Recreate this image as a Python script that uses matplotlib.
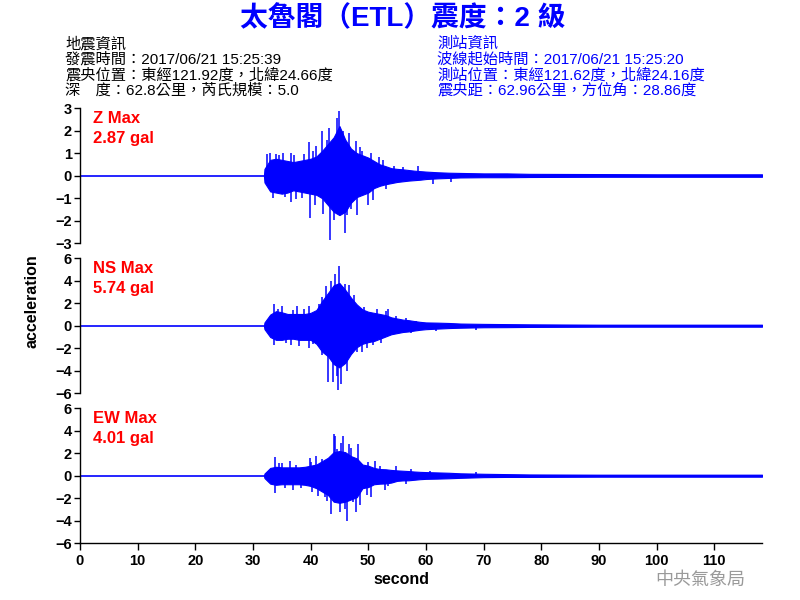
import matplotlib
matplotlib.use('Agg')
import matplotlib.pyplot as plt

plt.rcParams['font.family'] = ['Liberation Sans', 'Noto Sans CJK TC', 'DejaVu Sans']

BLUE = '#0000ff'
RED = '#ff0000'

title = '太魯閣（ETL）震度：2 級'
left_info = ['地震資訊', '發震時間：2017/06/21 15:25:39',
             '震央位置：東經121.92度，北緯24.66度', '深　度：62.8公里，芮氏規模：5.0']
right_info = ['測站資訊', '波線起始時間：2017/06/21 15:25:20',
              '測站位置：東經121.62度，北緯24.16度', '震央距：62.96公里，方位角：28.86度']

components = ['Z', 'NS', 'EW']
max_gal = ['2.87', '5.74', '4.01']
y_limits = [3, 6, 6]
y_steps = [1, 2, 2]
x_ticks = list(range(0, 111, 10))
t_end = 118.3

# envelope of the trace (seconds, gal)
env_t = [31.9, 32, 33, 34, 35, 36, 37, 38, 39, 40, 41, 42, 43, 44, 45, 46, 47, 48, 49, 50,
         51, 52, 53, 54, 55, 56, 57, 58, 59, 60, 62, 64, 66, 70, 74, 78, 90, 100, 110, 118.3]
z_up = [0, 0.3, 0.7, 0.75, 0.7, 0.65, 0.6, 0.65, 0.7, 0.75, 0.85, 1.1, 1.4, 1.7, 2.2, 1.6, 1.2, 1.0, 0.9, 0.8,
        0.65, 0.5, 0.42, 0.33, 0.3, 0.28, 0.25, 0.22, 0.2, 0.18, 0.15, 0.13, 0.12, 0.1, 0.1, 0.08, 0.07, 0.06, 0.06, 0.06]
z_lo = [0, -0.3, -0.7, -0.75, -0.8, -0.75, -0.65, -0.7, -0.75, -0.8, -0.85, -1.0, -1.3, -1.6, -1.75, -1.6, -1.2, -0.95, -0.85, -0.75,
        -0.55, -0.45, -0.38, -0.33, -0.28, -0.25, -0.22, -0.2, -0.18, -0.15, -0.12, -0.1, -0.08, -0.07, -0.07, -0.06, -0.05, -0.05, -0.05, -0.05]
ns_up = [0, 0.3, 1.0, 1.3, 1.2, 1.05, 1.05, 1.05, 1.05, 1.15, 1.4, 2.2, 2.9, 3.6, 3.8, 3.2, 2.5, 1.9, 1.45, 1.25,
         1.15, 1.05, 0.95, 0.75, 0.65, 0.55, 0.5, 0.42, 0.35, 0.3, 0.28, 0.25, 0.2, 0.17, 0.15, 0.13, 0.1, 0.1, 0.1, 0.1]
ns_lo = [0, -0.3, -1.0, -1.25, -1.25, -1.15, -1.15, -1.25, -1.25, -1.25, -1.6, -2.3, -2.7, -3.4, -3.7, -3.3, -2.5, -1.9, -1.6, -1.45,
         -1.35, -1.15, -0.95, -0.75, -0.65, -0.55, -0.5, -0.42, -0.35, -0.3, -0.25, -0.2, -0.17, -0.13, -0.12, -0.1, -0.08, -0.08, -0.08, -0.08]
ew_up = [0, 0.2, 0.7, 0.8, 0.75, 0.75, 0.75, 0.75, 0.8, 0.9, 1.0, 1.3, 1.6, 2.1, 2.2, 2.1, 1.75, 1.55, 1.0, 0.9,
         0.7, 0.6, 0.58, 0.52, 0.48, 0.45, 0.42, 0.38, 0.35, 0.33, 0.3, 0.27, 0.22, 0.18, 0.15, 0.12, 0.1, 0.1, 0.1, 0.1]
ew_lo = [0, -0.2, -0.7, -0.8, -0.75, -0.75, -0.75, -0.75, -0.8, -0.9, -1.1, -1.4, -1.7, -2.3, -2.4, -2.3, -2.1, -1.9, -1.1, -1.0,
         -0.75, -0.7, -0.68, -0.6, -0.45, -0.41, -0.4, -0.35, -0.3, -0.27, -0.25, -0.22, -0.18, -0.12, -0.1, -0.1, -0.08, -0.08, -0.08, -0.08]

# individual peaks standing out of the envelope
z_sp_t = [32.5, 33.0, 33.5, 34.0, 34.5, 35.2, 35.5, 36.6, 36.6, 37.2, 37.5, 38.5, 38.8, 39.7, 39.9, 40.5, 40.8, 41.0,
          41.9, 42.2, 42.8, 43.2, 43.3, 44.0, 44.5, 45.0, 45.6, 45.9, 46.3, 46.6, 47.0, 47.8, 48.1, 48.5, 49.0, 49.9,
          50.5, 50.8, 51.8, 52.5, 53.0, 54.5, 56.0, 58.6, 61.2, 64.4]
z_sp_v = [0.95, 1.0, -1.0, 0.95, 0.9, 1.0, -0.95, 0.99, -1.19, 0.9, -1.05, -1.0, 0.95, 1.5, -1.87, 1.1, -1.3, 1.3,
          1.98, -1.68, 1.6, 2.1, -2.85, -1.98, 2.54, 2.87, 1.98, -2.53, -1.75, 1.87, -1.5, 1.53, -1.75, 1.28, 1.1, -1.31,
          1.0, -1.1, 0.81, 0.7, -0.6, 0.45, 0.4, 0.42, -0.36, -0.3]
ns_sp_t = [33.6, 33.6, 34.3, 35.0, 35.8, 36.6, 37.0, 37.7, 38.0, 38.8, 39.7, 39.7, 40.5, 41.5, 41.9, 42.0, 42.6, 43.1,
           43.5, 43.9, 44.2, 44.5, 44.8, 45.0, 45.3, 45.9, 46.3, 46.7, 47.0, 47.5, 48.1, 48.9, 49.3, 49.8, 50.8, 51.5,
           52.2, 53.0, 53.4, 54.9, 56.5, 57.5, 58.3, 61.8, 68.7]
ns_sp_v = [1.96, -1.75, 1.5, 1.8, -1.5, -1.7, 1.4, 1.8, -1.8, 1.5, 1.8, -2.0, -1.6, 1.95, -2.6, 2.6, 3.5, -5.0,
           4.0, -5.0, 4.6, -4.5, -5.74, 5.36, -5.15, 3.7, -4.0, 3.65, 2.4, 2.7, -2.35, -2.35, 1.65, -2.0, -1.75, 1.5,
           -1.5, 1.3, 1.5, 0.85, 0.7, -0.6, 0.47, -0.5, -0.41]
ew_sp_t = [33.8, 33.8, 34.5, 35.0, 35.5, 36.4, 36.9, 37.5, 38.3, 39.9, 40.0, 40.2, 40.9, 41.3, 42.0, 42.5, 42.8, 43.6,
           44.1, 44.3, 44.6, 45.1, 45.3, 45.6, 46.0, 46.3, 46.7, 47.0, 47.3, 47.9, 48.3, 48.6, 49.7, 50.0, 50.5, 51.1,
           52.0, 52.9, 53.5, 54.9, 56.6, 57.5, 60.7, 68.7]
ew_sp_v = [1.66, -1.54, 1.1, 1.13, -1.1, 1.3, -1.24, 1.0, -1.1, 1.6, 1.2, -1.45, 1.72, -1.8, 1.5, -1.9, -2.28, -3.38,
           3.73, 3.5, 2.4, -3.23, 2.9, 3.5, -2.93, -4.01, 2.84, 2.5, -2.34, -3.23, 2.84, -2.6, -1.75, 1.2, -1.9, 1.36,
           0.9, -1.24, -0.9, 0.83, -0.71, 0.6, 0.41, 0.33]

ups = [z_up, ns_up, ew_up]
los = [z_lo, ns_lo, ew_lo]
sp_ts = [z_sp_t, ns_sp_t, ew_sp_t]
sp_vs = [z_sp_v, ns_sp_v, ew_sp_v]

W, H = 800, 600
fig = plt.figure(figsize=(8, 6), dpi=100)

left_px, right_px = 80, 762
panels_px = [(108.0, 243.3), (258.3, 393.3), (408.3, 543.3)]

for i, comp in enumerate(components):
    top, bot = panels_px[i]
    ax = fig.add_axes([left_px / W, 1 - bot / H, (right_px - left_px) / W, (bot - top) / H])
    lim = y_limits[i]
    ax.plot([0, t_end], [0, 0], color=BLUE, lw=1.2)
    ax.fill_between(env_t, los[i], ups[i], color=BLUE, lw=0.8, edgecolor=BLUE)
    ax.vlines(sp_ts[i], 0, sp_vs[i], color=BLUE, lw=1.1)
    ax.set_xlim(0, t_end)
    ax.set_ylim(-lim, lim)
    ax.set_yticks(list(range(-lim, lim + 1, y_steps[i])))
    for s in ['top', 'right']:
        ax.spines[s].set_visible(False)
    ax.spines['left'].set_linewidth(1.0)
    ax.tick_params(axis='y', direction='out', length=4, width=1, labelsize=10.5, pad=2)
    for lab in ax.get_yticklabels():
        lab.set_fontweight('bold')
    if i < 2:
        ax.spines['bottom'].set_visible(False)
        ax.set_xticks([])
    else:
        ax.spines['bottom'].set_linewidth(1.0)
        ax.set_xticks(x_ticks)
        ax.tick_params(axis='x', direction='out', length=5, width=1, labelsize=10.5, pad=3)
        for lab in ax.get_xticklabels():
            lab.set_fontweight('bold')
    ax.text(0.019, 0.926, f'{comp} Max', transform=ax.transAxes, color=RED,
            fontsize=12, fontweight='bold', va='center', ha='left')
    ax.text(0.019, 0.778, f'{max_gal[i]} gal', transform=ax.transAxes, color=RED,
            fontsize=12, fontweight='bold', va='center', ha='left')

fig.text(403 / W, 1 - 19 / H, title, color=BLUE, fontsize=20, fontweight='bold',
         ha='center', va='center')
line_y = [44, 59.5, 75, 90.5]
for j, s in enumerate(left_info):
    fig.text(65 / W, 1 - line_y[j] / H, s, color='black', fontsize=11, ha='left', va='center')
for j, s in enumerate(right_info):
    fig.text(437 / W, 1 - line_y[j] / H, s, color=BLUE, fontsize=11, ha='left', va='center')

fig.text(32 / W, 1 - 301 / H, 'acceleration', rotation=90, fontsize=11.5, fontweight='bold',
         ha='center', va='center')
fig.text(401 / W, 1 - 580 / H, 'second', fontsize=11.5, fontweight='bold', ha='center', va='center')
fig.text(700 / W, 1 - 580 / H, '中央氣象局', fontsize=13, color='#9a9a9a', ha='center', va='center')

fig.savefig('out.png', dpi=100)
